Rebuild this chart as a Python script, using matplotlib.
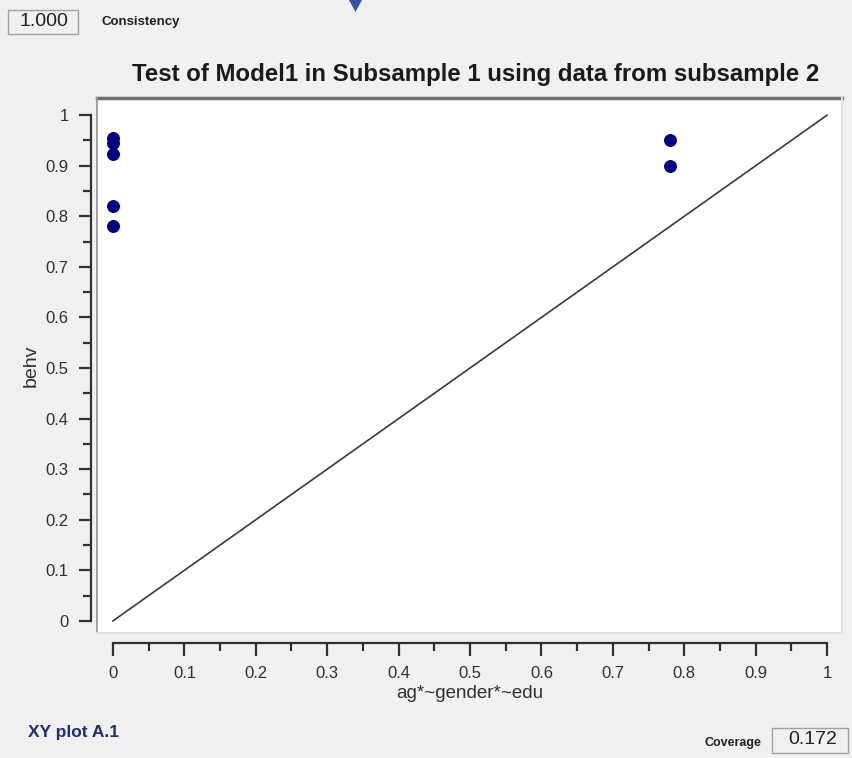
import matplotlib
matplotlib.use('Agg')
import matplotlib.pyplot as plt
from matplotlib.patches import Rectangle, Polygon
from matplotlib.lines import Line2D
from matplotlib.ticker import MultipleLocator

# datos
x_vals = [0, 0, 0, 0, 0, 0.78, 0.78]
y_vals = [0.955, 0.945, 0.923, 0.82, 0.78, 0.95, 0.90]
diag_x = [0, 1]
diag_y = [0, 1]
tick_vals = [0, 0.1, 0.2, 0.3, 0.4, 0.5, 0.6, 0.7, 0.8, 0.9, 1]
tick_labels = ['0', '0.1', '0.2', '0.3', '0.4', '0.5', '0.6', '0.7', '0.8', '0.9', '1']
consistency = '1.000'
coverage = '0.172'

plt.rcParams['font.family'] = ['Liberation Sans', 'DejaVu Sans']

W, H = 852, 758
fig = plt.figure(figsize=(W / 100, H / 100), dpi=100)
fig.patch.set_facecolor('#f0f0f0')

def fx(px):
    return px / W

def fy(py):
    return 1 - py / H

# caja blanca del area de dibujo
ax = fig.add_axes([fx(97), fy(633), fx(842) - fx(97), fy(98) - fy(633)])
ax.set_facecolor('white')
ax.set_xlim(-0.0224, 1.021)
ax.set_ylim(-0.024, 1.034)

ax.plot(diag_x, diag_y, color='#3a3a3a', lw=1.2, zorder=2)
ax.plot(x_vals, y_vals, 'o', color='#000080', ms=8.3, mec='#000080', zorder=3)

for s in ['top', 'right']:
    ax.spines[s].set_visible(False)
ax.spines['left'].set_position(('outward', 4.5))
ax.spines['bottom'].set_position(('outward', 7.5))
ax.spines['left'].set_bounds(0, 1)
ax.spines['bottom'].set_bounds(0, 1)
for s in ['left', 'bottom']:
    ax.spines[s].set_linewidth(1.6)
    ax.spines[s].set_color('#303030')

ax.set_xticks(tick_vals)
ax.set_xticklabels(tick_labels)
ax.set_yticks(tick_vals)
ax.set_yticklabels(tick_labels)
ax.xaxis.set_minor_locator(MultipleLocator(0.05))
ax.yaxis.set_minor_locator(MultipleLocator(0.05))
ax.tick_params(which='major', direction='out', length=9, width=1.6, color='#303030',
               labelsize=12, labelcolor='#303030')
ax.tick_params(axis='y', which='major', pad=7)
ax.tick_params(axis='x', which='major', pad=7)
ax.tick_params(which='minor', direction='out', length=5.5, width=1.6, color='#303030')

ax.set_xlabel('ag*~gender*~edu', fontsize=13.5, color='#303030', labelpad=3)
ax.set_ylabel('behv', fontsize=14, color='#303030', labelpad=4)

# borde hundido de la caja
ax.add_line(Line2D([0, 1], [1, 1], transform=ax.transAxes, color='#707070', lw=2.5, clip_on=False))
ax.add_line(Line2D([0, 0], [0, 1], transform=ax.transAxes, color='#9a9a9a', lw=1.3, clip_on=False))
ax.add_line(Line2D([1, 1], [0, 1], transform=ax.transAxes, color='#e2e2e2', lw=1.5, clip_on=False))
ax.add_line(Line2D([0, 1], [0, 0], transform=ax.transAxes, color='#e2e2e2', lw=1.5, clip_on=False))

fig.text(fx(476), fy(74), 'Test of Model1 in Subsample 1 using data from subsample 2',
         ha='center', va='center', fontsize=17.3, fontweight='bold', color='#1a1a1a')

# cajas de consistencia y cobertura
fig.add_artist(Rectangle((fx(8), fy(34)), fx(78) - fx(8), fy(10) - fy(34),
                         transform=fig.transFigure, facecolor='#f0f0f0', edgecolor='#a0a0a0', lw=1))
fig.text(fx(44), fy(22), consistency, ha='center', va='center', fontsize=14, color='#202020')
fig.text(fx(101), fy(22), 'Consistency', ha='left', va='center', fontsize=9.5,
         fontweight='bold', color='#202020')

fig.add_artist(Rectangle((fx(772), fy(753)), fx(848) - fx(772), fy(728) - fy(753),
                         transform=fig.transFigure, facecolor='#f0f0f0', edgecolor='#a0a0a0', lw=1))
fig.text(fx(813), fy(740), coverage, ha='center', va='center', fontsize=14, color='#202020')
fig.text(fx(761), fy(743), 'Coverage', ha='right', va='center', fontsize=9,
         fontweight='bold', color='#202020')

fig.text(fx(28), fy(733), 'XY plot A.1', ha='left', va='center', fontsize=12.5,
         fontweight='bold', color='#1f2f6b')

# flecha azul arriba
fig.add_artist(Polygon([(fx(349), fy(0)), (fx(362), fy(0)), (fx(355.5), fy(12))],
                       closed=True, transform=fig.transFigure, facecolor='#2f5597', edgecolor='none'))

fig.savefig('out.png', dpi=100, facecolor=fig.get_facecolor())
